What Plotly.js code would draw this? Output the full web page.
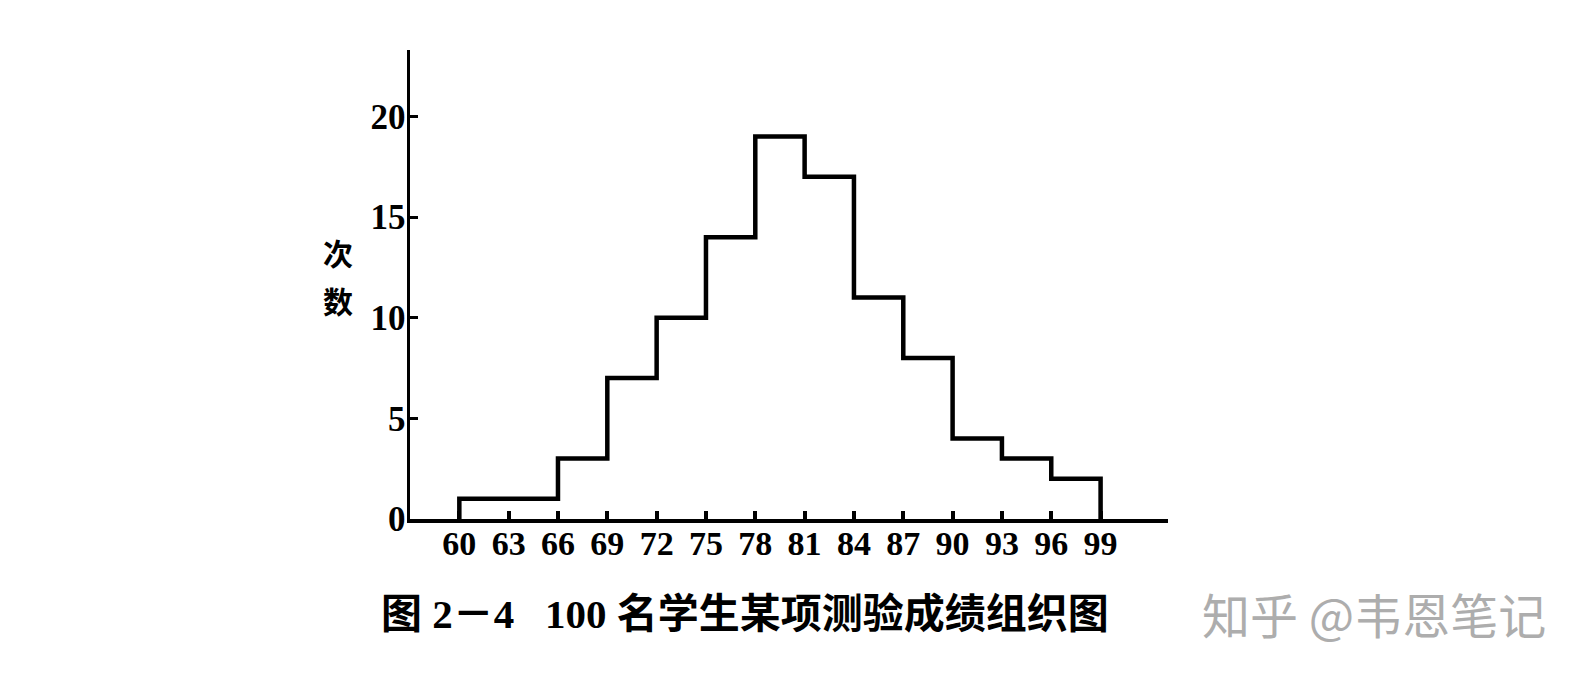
<!DOCTYPE html>
<html>
<head>
<meta charset="utf-8">
<script src="https://cdn.plot.ly/plotly-3.0.1.min.js"></script>
<style>
  html, body { margin: 0; padding: 0; background: #ffffff; }
  #chart { width: 1584px; height: 678px; }
</style>
</head>
<body>
<div id="chart"></div>
<script>
// ---- data ----
const binEdges = [60, 63, 66, 69, 72, 75, 78, 81, 84, 87, 90, 93, 96, 99];
const counts = [1, 1, 3, 7, 10, 14, 19, 17, 11, 8, 4, 3, 2];
const xTickLabels = ["60", "63", "66", "69", "72", "75", "78", "81", "84", "87", "90", "93", "96", "99"];
const yTickVals = [0, 5, 10, 15, 20];
const yTickLabels = ["0", "5", "10", "15", "20"];
const yTitleChars = ["次", "数"];
const captionText = "图 2－4   100 名学生某项测验成绩组织图";
const watermarkText = "知乎 @韦恩笔记";

// step outline of the histogram, built from the bins
const stepX = [binEdges[0]].concat(binEdges);
const stepY = [0].concat(counts, [0]);

const serif = "Liberation Serif, Times New Roman, serif";
const cjk = "Liberation Serif, Noto Sans CJK SC, sans-serif";

const trace = {
  x: stepX,
  y: stepY,
  type: "scatter",
  mode: "lines",
  line: { shape: "hv", color: "#000000", width: 4.5 },
  cliponaxis: false,
  hoverinfo: "skip",
  showlegend: false
};

const yTitleAnnotations = [
  {
    text: yTitleChars[0],
    xref: "paper", yref: "paper",
    x: -0.095, y: 0.5203,
    xanchor: "center", yanchor: "bottom",
    showarrow: false, borderpad: 0,
    font: { family: "Noto Sans CJK SC, sans-serif", size: 30, color: "#000000", weight: "bold" }
  },
  {
    text: yTitleChars[1],
    xref: "paper", yref: "paper",
    x: -0.095, y: 0.516,
    xanchor: "center", yanchor: "top",
    showarrow: false, borderpad: 0,
    font: { family: "Noto Sans CJK SC, sans-serif", size: 30, color: "#000000", weight: "bold" }
  }
];

const layout = {
  width: 1584,
  height: 678,
  margin: { l: 410, r: 416, t: 50, b: 159, pad: 0 },
  paper_bgcolor: "#ffffff",
  plot_bgcolor: "#ffffff",
  showlegend: false,
  xaxis: {
    range: [57, 103.1],
    showgrid: false,
    zeroline: false,
    showline: true,
    linecolor: "#000000",
    linewidth: 3.5,
    ticks: "inside",
    ticklen: 8,
    tickwidth: 4,
    tickcolor: "#000000",
    tickmode: "array",
    tickvals: binEdges,
    ticktext: xTickLabels,
    ticklabelstandoff: -8,
    tickfont: { family: serif, size: 34, color: "#000000", weight: "bold" },
    fixedrange: true
  },
  yaxis: {
    range: [0, 23.3],
    showgrid: false,
    zeroline: false,
    showline: true,
    linecolor: "#000000",
    linewidth: 3.5,
    ticks: "inside",
    ticklen: 8,
    tickwidth: 3,
    tickcolor: "#000000",
    tickmode: "array",
    tickvals: yTickVals,
    ticktext: yTickLabels,
    ticklabelstandoff: -6,
    tickfont: { family: serif, size: 35, color: "#000000", weight: "bold" },
    fixedrange: true
  },
  annotations: yTitleAnnotations.concat([
    {
      text: captionText,
      xref: "paper", yref: "paper",
      x: 0.4426, y: -0.2026,
      xanchor: "center", yanchor: "middle",
      showarrow: false,
      font: { family: cjk, size: 41, color: "#000000", weight: "bold" }
    },
    {
      text: watermarkText,
      xref: "paper", yref: "paper",
      x: 1.2718, y: -0.2004,
      xanchor: "center", yanchor: "middle",
      showarrow: false,
      font: { family: "Noto Sans CJK SC, sans-serif", size: 48, color: "#adadad" }
    }
  ])
};

Plotly.newPlot("chart", [trace], layout, { staticPlot: true, displayModeBar: false });
</script>
</body>
</html>
